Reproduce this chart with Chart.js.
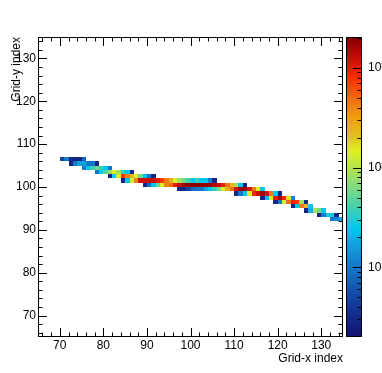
<!DOCTYPE html>
<html>
<head>
<meta charset="utf-8">
<script src="https://cdn.jsdelivr.net/npm/chart.js@4"></script>
<style>
  html, body { margin: 0; padding: 0; background: #fff; }
  canvas { display: block; }
</style>
</head>
<body>
<canvas id="gridChart" width="382" height="373"></canvas>
<script>
// Histogram rows: y index, first x index of the row, bin contents from there on
const rowY = [106, 105, 104, 103, 102, 101, 100, 99, 98, 97, 96, 95, 94, 93, 92];
const rowStartX = [70, 72, 75, 78, 81, 84, 89, 97, 110, 116, 119, 123, 126, 129, 132];
const rowCounts = [
    [5, 10, 3, 3, 3, 8],
    [3, 10, 17, 17, 10, 10, 3],
    [10, 24, 38, 55, 38, 24, 10],
    [10, 24, 45, 85, 140, 85, 38, 24, 3],
    [3, 24, 140, 750, 420, 220, 140, 55, 24, 10, 3],
    [3, 24, 140, 420, 1200, 1200, 1200, 1200, 1000, 750, 420, 250, 140, 85, 55, 38, 24, 38, 24, 24, 10, 3],
    [3, 8, 24, 55, 140, 420, 500, 1000, 1300, 1700, 1800, 1900, 1900, 1800, 1800, 1700, 1400, 1200, 1000, 480, 220, 85, 24, 3],
    [3, 3, 5, 8, 10, 10, 17, 24, 38, 60, 140, 250, 480, 1100, 1700, 1700, 1100, 450, 150, 24],
    [3, 10, 24, 140, 900, 1200, 1600, 1100, 420, 24, 3],
    [3, 24, 150, 1000, 1500, 900, 160, 12],
    [3, 10, 140, 480, 900, 750, 85, 3],
    [3, 24, 450, 230, 24],
    [3, 20, 90, 60, 24],
    [3, 10, 24, 28, 3],
    [10, 12, 17]
];

// Axes
const xRange = [65, 135];
const yRange = [65, 135];
const zRange = [2.0, 2040];
const xTicks = [70, 80, 90, 100, 110, 120, 130];
const yTicks = [70, 80, 90, 100, 110, 120, 130];
const zTicks = [10, 100, 1000];
const zTickLabels = ['10\u00b9', '10\u00b2', '10\u00b3'];
const xTitle = 'Grid-x index';
const yTitle = 'Grid-y index';

const FONT = "'Liberation Sans', Arial, Helvetica, sans-serif";

// Colour palette (fraction along the colour bar -> colour)
const paletteStops = [
    [0.00, '#12126e'], [0.04, '#142080'], [0.12, '#1440a0'], [0.18, '#1460b8'],
    [0.25, '#1480d0'], [0.32, '#10a8e0'], [0.36, '#00c8f0'], [0.43, '#40d0b0'],
    [0.48, '#70d890'], [0.54, '#a0e060'], [0.62, '#e0f020'], [0.67, '#e0c020'],
    [0.73, '#f0a010'], [0.79, '#f07010'], [0.86, '#ff3000'], [0.94, '#c00808'],
    [1.00, '#800000']
];

function hexToRgb(hex) {
    const n = parseInt(hex.slice(1), 16);
    return [(n >> 16) & 255, (n >> 8) & 255, n & 255];
}

function paletteColor(f) {
    f = Math.min(1, Math.max(0, f));
    for (let i = 1; i < paletteStops.length; i++) {
        const [f1, c1] = paletteStops[i];
        if (f <= f1) {
            const [f0, c0] = paletteStops[i - 1];
            const t = (f - f0) / (f1 - f0);
            const a = hexToRgb(c0), b = hexToRgb(c1);
            const c = a.map((v, k) => Math.round(v + (b[k] - v) * t));
            return `rgb(${c[0]},${c[1]},${c[2]})`;
        }
    }
    return paletteStops[paletteStops.length - 1][1];
}

function colorForValue(z, v) {
    const f = (z.bottom - z.getPixelForValue(v)) / (z.bottom - z.top);
    return paletteColor(f);
}

// Cells for the dataset
const cells = [];
rowY.forEach((yb, i) => {
    rowCounts[i].forEach((v, j) => {
        cells.push({ x: rowStartX[i] + j, y: yb, v: v });
    });
});

// Draws the bins, frame, inward ticks and colour bar
const histPlugin = {
    id: 'hist2d',
    beforeDatasetsDraw(chart) {
        const { ctx, scales: { x, y, z } } = chart;
        ctx.save();
        chart.data.datasets[0].data.forEach(p => {
            const x0 = Math.round(x.getPixelForValue(p.x));
            const x1 = Math.round(x.getPixelForValue(p.x + 1));
            const y0 = Math.round(y.getPixelForValue(p.y + 1));
            const y1 = Math.round(y.getPixelForValue(p.y));
            ctx.fillStyle = colorForValue(z, p.v);
            ctx.fillRect(x0, y0, x1 - x0, y1 - y0);
        });
        ctx.restore();
    },
    afterDraw(chart) {
        const { ctx, chartArea: area, scales: { x, y, z } } = chart;
        ctx.save();
        ctx.strokeStyle = '#000';
        ctx.lineWidth = 1;

        // frame
        ctx.strokeRect(area.left + 0.5, area.top + 0.5, area.right - area.left - 1, area.bottom - area.top - 1);

        const major = 9, minor = 4.5;
        ctx.beginPath();
        for (let v = xRange[0] + 1; v < xRange[1]; v += 2) {
            const len = (v % 10 === 0) ? major : minor;
            const px = Math.round(x.getPixelForValue(v)) + 0.5;
            ctx.moveTo(px, area.bottom); ctx.lineTo(px, area.bottom - len);
            ctx.moveTo(px, area.top); ctx.lineTo(px, area.top + len);
        }
        for (let v = yRange[0] + 1; v < yRange[1]; v += 2) {
            const len = (v % 10 === 0) ? major : minor;
            const py = Math.round(y.getPixelForValue(v)) + 0.5;
            ctx.moveTo(area.left, py); ctx.lineTo(area.left + len, py);
            ctx.moveTo(area.right, py); ctx.lineTo(area.right - len, py);
        }
        ctx.stroke();

        // colour bar
        const bx0 = z.left + 3, bx1 = z.left + 19;
        for (let py = z.top; py < z.bottom; py++) {
            const f = (z.bottom - py - 0.5) / (z.bottom - z.top);
            ctx.fillStyle = paletteColor(f);
            ctx.fillRect(bx0, py, bx1 - bx0, 1);
        }
        ctx.strokeRect(bx0 + 0.5, z.top + 0.5, bx1 - bx0 - 1, z.bottom - z.top - 1);

        ctx.beginPath();
        for (let d = 1; d <= 1000; d *= 10) {
            for (let k = 1; k <= 9; k++) {
                const v = d * k;
                if (v <= zRange[0] || v >= zRange[1]) continue;
                const len = (k === 1) ? major : minor;
                const py = Math.round(z.getPixelForValue(v)) + 0.5;
                ctx.moveTo(bx1, py); ctx.lineTo(bx1 - len, py);
            }
        }
        ctx.stroke();
        ctx.restore();
    }
};

const tickFont = { family: FONT, size: 12 };

const ctx = document.getElementById('gridChart').getContext('2d');
const gridChart = new Chart(ctx, {
    type: 'scatter',
    data: {
        datasets: [{
            label: 'counts',
            data: cells,
            pointRadius: 0,
            pointHoverRadius: 0
        }]
    },
    options: {
        responsive: false,
        animation: false,
        devicePixelRatio: 1,
        layout: { padding: { top: 37, left: 0, right: 0, bottom: 0 } },
        plugins: {
            legend: { display: false },
            tooltip: { enabled: false }
        },
        scales: {
            x: {
                type: 'linear',
                position: 'bottom',
                min: xRange[0],
                max: xRange[1],
                grid: { display: false, drawTicks: false },
                border: { display: false },
                afterBuildTicks: s => { s.ticks = xTicks.map(v => ({ value: v })); },
                afterFit: s => { s.height = 36; },
                ticks: { color: '#000', font: tickFont, padding: 1, maxRotation: 0 },
                title: {
                    display: true, text: xTitle, align: 'end', color: '#000',
                    font: { family: FONT, size: 12 }, padding: { top: 0, bottom: 7 }
                }
            },
            y: {
                type: 'linear',
                position: 'left',
                min: yRange[0],
                max: yRange[1],
                grid: { display: false, drawTicks: false },
                border: { display: false },
                afterBuildTicks: s => { s.ticks = yTicks.map(v => ({ value: v })); },
                afterFit: s => { s.width = 38; },
                ticks: { color: '#000', font: tickFont, padding: 2 },
                title: {
                    display: true, text: yTitle, align: 'end', color: '#000',
                    font: { family: FONT, size: 12 }, padding: { top: 9, bottom: 0 }
                }
            },
            z: {
                type: 'logarithmic',
                axis: 'y',
                position: 'right',
                min: zRange[0],
                max: zRange[1],
                grid: { display: false, drawTicks: false },
                border: { display: false },
                afterBuildTicks: s => { s.ticks = zTicks.map(v => ({ value: v })); },
                afterFit: s => { s.width = 39; },
                ticks: {
                    color: '#000', font: tickFont, padding: 25,
                    callback: (val, i) => zTickLabels[i]
                }
            }
        }
    },
    plugins: [histPlugin]
});
</script>
</body>
</html>
